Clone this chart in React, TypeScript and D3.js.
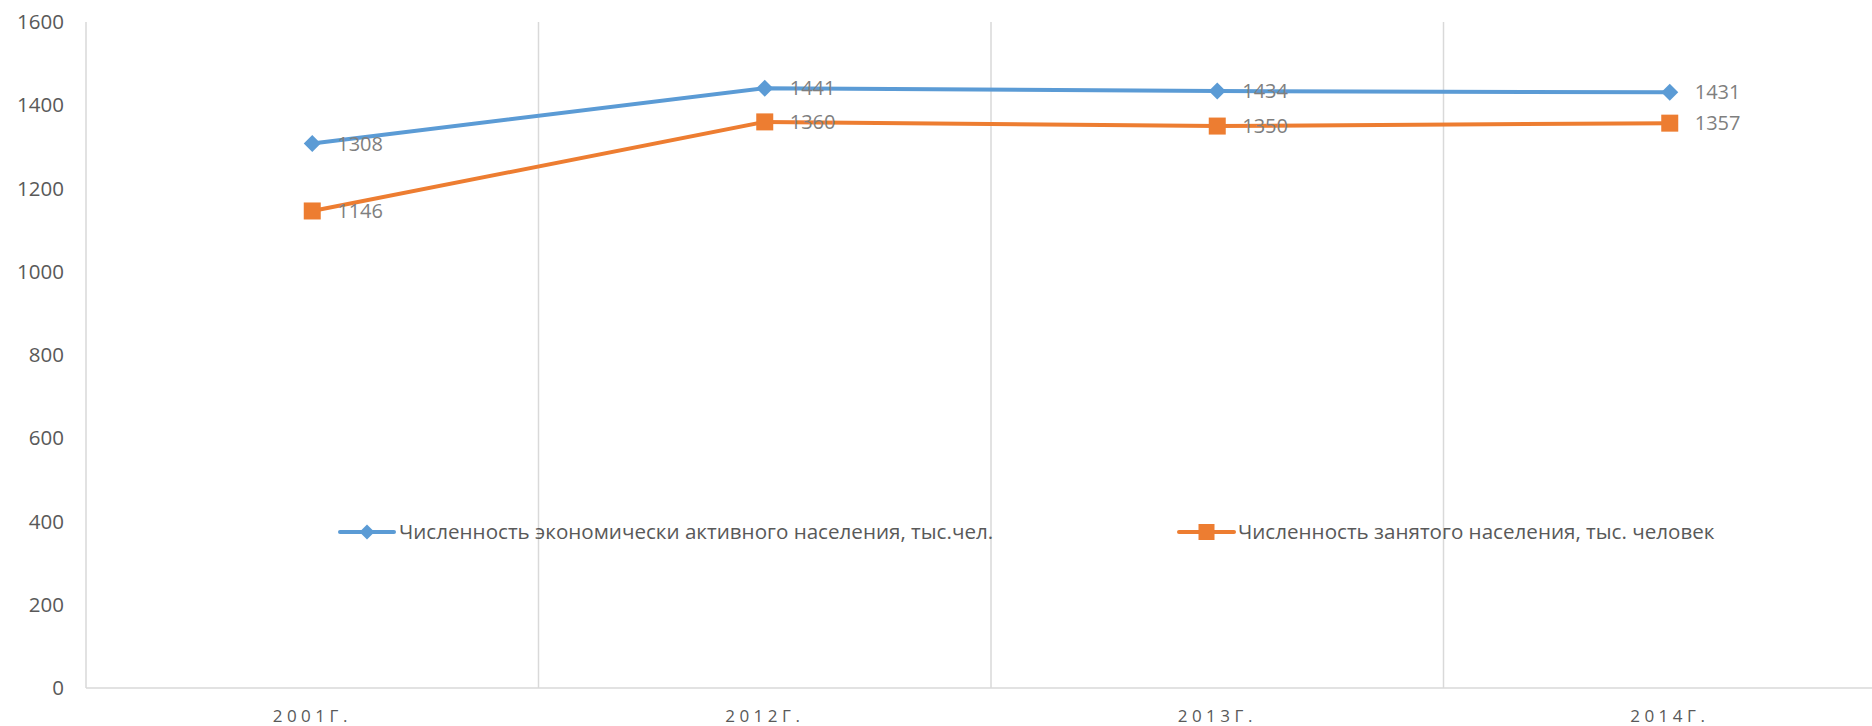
import * as d3 from "d3"

const categories = ["2001Г.", "2012Г.", "2013Г.", "2014Г."]
const activeValues = [1308, 1441, 1434, 1431]
const employedValues = [1146, 1360, 1350, 1357]
const seriesNames = [
  "Численность экономически активного населения, тыс.чел.",
  "Численность занятого населения, тыс. человек",
]
const yTicks = [0, 200, 400, 600, 800, 1000, 1200, 1400, 1600]

const width = 1872
const height = 726
const left = 86
const top = 22
const bottom = 688
const step = 452.5

const BLUE = "#5B9BD5"
const ORANGE = "#ED7D31"
const GRID = "#d9d9d9"
const FONT = "'Open Sans', sans-serif"

export default function App() {
  const x = d3
    .scaleBand<string>()
    .domain(categories)
    .range([left, left + step * categories.length])
    .padding(0)
  const y = d3.scaleLinear().domain([0, 1600]).range([bottom, top])

  const cx = (c: string) => (x(c) ?? 0) + x.bandwidth() / 2

  const line = d3
    .line<number>()
    .x((_, i) => cx(categories[i]))
    .y((d) => y(d))

  const diamond = (px: number, py: number, r: number) =>
    `M${px},${py - r}L${px + r},${py}L${px},${py + r}L${px - r},${py}Z`

  const legend = [
    { name: seriesNames[0], color: BLUE, marker: "diamond", x1: 340, x2: 394, tx: 399 },
    { name: seriesNames[1], color: ORANGE, marker: "square", x1: 1179, x2: 1234, tx: 1238 },
  ]
  const legendY = 532

  return (
    <svg
      width={width}
      height={height}
      style={{ position: "absolute", left: 0, top: 0, display: "block", background: "#fff" }}
      fontFamily={FONT}
    >
      {/* vertical category gridlines */}
      {categories.slice(1).map((c) => (
        <line key={c} x1={x(c)} x2={x(c)} y1={top} y2={bottom} stroke={GRID} strokeWidth={1.5} />
      ))}
      {/* axes */}
      <line x1={left} x2={left} y1={top} y2={bottom} stroke={GRID} strokeWidth={1.5} />
      <line x1={left} x2={width} y1={bottom} y2={bottom} stroke={GRID} strokeWidth={1.5} />

      {yTicks.map((t) => (
        <text key={t} x={64} y={y(t)} dy="0.35em" textAnchor="end" fontSize={20.5} fill="#595959">
          {t}
        </text>
      ))}
      {categories.map((c) => (
        <text
          key={c}
          x={cx(c)}
          y={716}
          dy="0.35em"
          textAnchor="middle"
          fontSize={17}
          letterSpacing={4.5}
          fill="#595959"
        >
          {c}
        </text>
      ))}

      {/* legend */}
      {legend.map((l) => {
        const mx = (l.x1 + l.x2) / 2
        return (
          <g key={l.name}>
            <line x1={l.x1} x2={l.x2} y1={legendY} y2={legendY} stroke={l.color} strokeWidth={4} strokeLinecap="round" />
            {l.marker === "diamond" ? (
              <path d={diamond(mx, legendY, 7.5)} fill={l.color} />
            ) : (
              <rect x={mx - 8} y={legendY - 8} width={16} height={16} fill={l.color} />
            )}
            <text x={l.tx} y={legendY} dy="0.35em" fontSize={20.6} fill="#595959">
              {l.name}
            </text>
          </g>
        )
      })}

      {/* series */}
      <path d={line(activeValues) ?? ""} fill="none" stroke={BLUE} strokeWidth={4} strokeLinejoin="round" />
      <path d={line(employedValues) ?? ""} fill="none" stroke={ORANGE} strokeWidth={4} strokeLinejoin="round" />
      {activeValues.map((v, i) => (
        <path key={"a" + i} d={diamond(cx(categories[i]), y(v), 8.5)} fill={BLUE} />
      ))}
      {employedValues.map((v, i) => (
        <rect key={"e" + i} x={cx(categories[i]) - 8.5} y={y(v) - 8.5} width={17} height={17} fill={ORANGE} />
      ))}
      {activeValues.map((v, i) => (
        <text key={"at" + i} x={cx(categories[i]) + 25} y={y(v)} dy="0.35em" fontSize={20} fill="#7f7f7f">
          {v}
        </text>
      ))}
      {employedValues.map((v, i) => (
        <text key={"et" + i} x={cx(categories[i]) + 25} y={y(v)} dy="0.35em" fontSize={20} fill="#7f7f7f">
          {v}
        </text>
      ))}
    </svg>
  )
}
